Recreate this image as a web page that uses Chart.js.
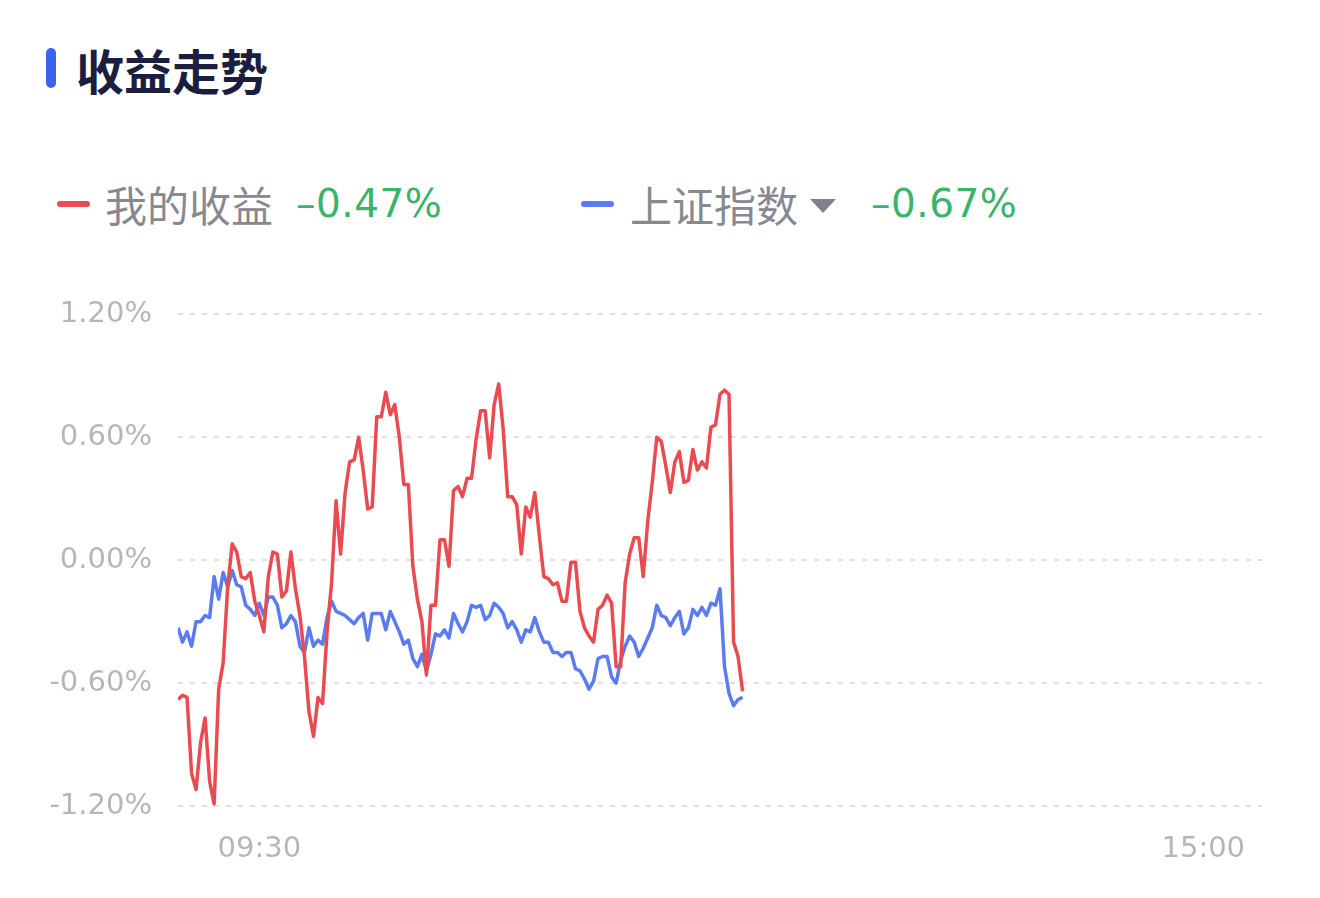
<!DOCTYPE html>
<html>
<head>
<meta charset="utf-8">
<script src="https://cdn.jsdelivr.net/npm/chart.js@4"></script>
<style>
  body { margin: 0; background: #fff; width: 1320px; height: 898px; overflow: hidden; position: relative; }
  .abs { position: absolute; }
  #bar { left: 46px; top: 48px; width: 10px; height: 40px; border-radius: 5px; background: #3d63ee; }
  #title { left: 76px; top: 45px; font: 600 48px/48px "Noto Sans CJK SC", sans-serif; color: #1b1e3f; }
  .lline { width: 33px; height: 6px; border-radius: 3px; top: 201px; }
  .lname { top: 183px; font: 42px/42px "Noto Sans CJK SC", sans-serif; color: #878991; }
  .lval { top: 184px; font: 39px/40px "DejaVu Sans", sans-serif; color: #3cb26b; letter-spacing: 0.5px; }
  #tri { left: 810px; top: 199px; width: 0; height: 0; border-left: 13px solid transparent; border-right: 13px solid transparent; border-top: 14px solid #7f818a; }
  #wrap { left: 0; top: 271px; width: 1320px; height: 618px; }
</style>
</head>
<body>
<div class="abs" id="bar"></div>
<div class="abs" id="title">收益走势</div>
<div class="abs lline" id="l0" style="left:57px;background:#ea4b50"></div>
<div class="abs lname" id="n0" style="left:105px"></div>
<div class="abs lval" id="v0" style="left:296px"></div>
<div class="abs lline" id="l1" style="left:581px;background:#5a7cf0"></div>
<div class="abs lname" id="n1" style="left:630px"></div>
<div class="abs" id="tri"></div>
<div class="abs lval" id="v1" style="left:871px"></div>
<div class="abs" id="wrap"><canvas id="c" width="1320" height="618"></canvas></div>
<script>
'use strict';

// 我的收益, one value per minute from 09:30
const myReturn = [
  -0.68, -0.66, -0.67, -1.04, -1.12, -0.89, -0.77, -1.08, -1.19, -0.63,
  -0.50, -0.13, 0.08, 0.04, -0.08, -0.09, -0.06, -0.20, -0.27, -0.35,
  -0.08, 0.04, 0.03, -0.18, -0.15, 0.04, -0.14, -0.27, -0.47, -0.74,
  -0.86, -0.67,
  -0.70, -0.35, -0.11, 0.29, 0.03, 0.33, 0.48, 0.49, 0.60, 0.44,
  0.25, 0.26, 0.70, 0.70, 0.82, 0.71, 0.76, 0.60, 0.37, 0.37,
  -0.03, -0.19, -0.30, -0.56, -0.22, -0.22, 0.10, 0.10, -0.03, 0.34,
  0.36,
  0.31, 0.40, 0.40, 0.59, 0.73, 0.73, 0.50, 0.76, 0.86, 0.64,
  0.31, 0.31, 0.27, 0.03, 0.26, 0.21, 0.33, 0.12, -0.08, -0.09,
  -0.12, -0.11, -0.20, -0.20, -0.01, -0.01, -0.25, -0.33, -0.37, -0.40,
  -0.24, -0.22, -0.17, -0.21, -0.52, -0.52, -0.11, 0.03, 0.11, 0.11,
  -0.08, 0.19, 0.38, 0.60, 0.58, 0.46, 0.33, 0.48, 0.53, 0.38,
  0.39, 0.54, 0.44, 0.48, 0.45, 0.65, 0.66, 0.81, 0.83, 0.81,
  -0.40, -0.47, -0.64
];

// 上证指数
const shIndex = [
  -0.33, -0.40, -0.35, -0.42, -0.30, -0.30, -0.27, -0.28, -0.08, -0.19,
  -0.06, -0.13, -0.05, -0.12, -0.13, -0.22, -0.24, -0.27, -0.21, -0.27,
  -0.18, -0.18, -0.22, -0.33, -0.31, -0.27, -0.30, -0.42, -0.45, -0.33,
  -0.42, -0.39,
  -0.41, -0.28, -0.20, -0.25, -0.26, -0.27, -0.29, -0.31, -0.28, -0.26,
  -0.39, -0.26, -0.26, -0.26, -0.34, -0.25, -0.30, -0.35, -0.41, -0.39,
  -0.48, -0.52, -0.46, -0.54, -0.46, -0.36, -0.37, -0.34, -0.38, -0.26,
  -0.31,
  -0.35, -0.30, -0.22, -0.23, -0.22, -0.29, -0.27, -0.21, -0.23, -0.26,
  -0.33, -0.30, -0.34, -0.40, -0.34, -0.35, -0.28, -0.35, -0.40, -0.40,
  -0.45, -0.45, -0.47, -0.45, -0.45, -0.53, -0.54, -0.58, -0.63, -0.59,
  -0.48, -0.47, -0.47, -0.57, -0.60, -0.49, -0.42, -0.37, -0.40, -0.47,
  -0.43, -0.38, -0.33, -0.22, -0.27, -0.28, -0.32, -0.28, -0.25, -0.36,
  -0.33, -0.24, -0.27, -0.23, -0.27, -0.21, -0.22, -0.14, -0.52, -0.65,
  -0.71, -0.68, -0.67
];

const yTicks = [-1.2, -0.6, 0, 0.6, 1.2];
const xTickAt = [18, 227];          // minute slots where the time labels sit
const xTickLabels = ['09:30', '15:00'];
const sessionMinutes = 240;

const legendNames = ['我的收益', '上证指数'];
const legendValues = ['–0.47%', '–0.67%'];

document.getElementById('n0').textContent = legendNames[0];
document.getElementById('n1').textContent = legendNames[1];
document.getElementById('v0').textContent = legendValues[0];
document.getElementById('v1').textContent = legendValues[1];

const toPoints = arr => arr.map((v, i) => ({ x: i, y: v }));

const tickFont = { family: '"DejaVu Sans", sans-serif', size: 29 };
const tickColor = '#b3b6bd';

new Chart(document.getElementById('c').getContext('2d'), {
  type: 'line',
  data: {
    datasets: [{
      label: legendNames[0],
      data: toPoints(myReturn),
      borderColor: '#ea4b50',
      borderWidth: 3.5,
      pointRadius: 0,
      tension: 0,
      borderJoinStyle: 'round'
    }, {
      label: legendNames[1],
      data: toPoints(shIndex),
      borderColor: '#5a7cf0',
      borderWidth: 3.5,
      pointRadius: 0,
      tension: 0,
      borderJoinStyle: 'round'
    }]
  },
  options: {
    responsive: false,
    animation: false,
    devicePixelRatio: 1,
    layout: { padding: { left: 0, right: 58, top: 34, bottom: 0 } },
    plugins: { legend: { display: false }, tooltip: { enabled: false } },
    scales: {
      x: {
        type: 'linear',
        min: 0,
        max: sessionMinutes,
        grid: { display: false, drawTicks: false },
        border: { display: false },
        afterBuildTicks: axis => { axis.ticks = xTickAt.map(v => ({ value: v })); },
        afterFit: scale => { scale.height = 83; },
        ticks: {
          autoSkip: false,
          maxRotation: 0,
          padding: 26,
          color: tickColor,
          font: tickFont,
          callback: (v, i) => xTickLabels[i]
        }
      },
      y: {
        min: -1.2,
        max: 1.2,
        grid: { color: '#dedfe3', lineWidth: 2, drawTicks: false },
        border: { display: false, dash: [5, 7] },
        afterBuildTicks: axis => { axis.ticks = yTicks.map(v => ({ value: v })); },
        afterFit: scale => { scale.width = 178; },
        ticks: {
          padding: 26,
          color: tickColor,
          font: tickFont,
          callback: v => v.toFixed(2) + '%'
        }
      }
    }
  }
});
</script>
</body>
</html>
